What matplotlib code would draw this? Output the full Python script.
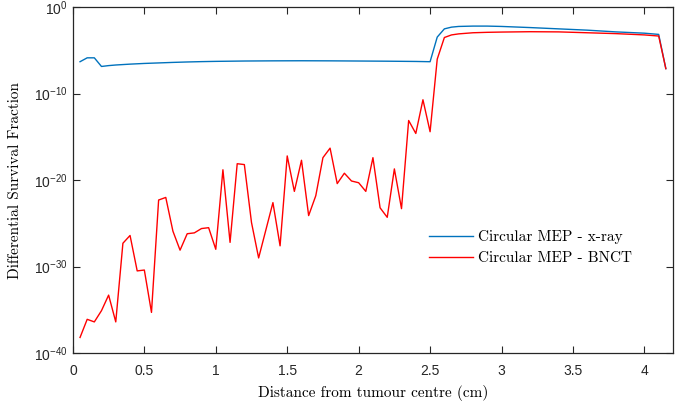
import matplotlib
matplotlib.use("Agg")
import matplotlib.pyplot as plt
from matplotlib.ticker import NullLocator

plt.rcParams['font.family'] = ['Liberation Sans', 'DejaVu Sans']

# log10 of differential survival fraction
xray_x = [0.05, 0.10, 0.15, 0.20, 0.25, 0.30, 0.40, 0.50, 0.60, 0.70, 0.80, 0.90, 1.00,
          1.20, 1.40, 1.60, 1.80, 2.00, 2.20, 2.40, 2.50, 2.55, 2.60, 2.65, 2.70, 2.80,
          2.90, 3.00, 3.20, 3.40, 3.60, 3.80, 4.00, 4.10, 4.15]
xray_log = [-6.3, -5.85, -5.85, -6.85, -6.75, -6.68, -6.58, -6.5, -6.44, -6.38, -6.33, -6.29, -6.26,
            -6.22, -6.2, -6.19, -6.2, -6.22, -6.24, -6.27, -6.3, -3.45, -2.5, -2.3, -2.22, -2.18,
            -2.18, -2.22, -2.35, -2.5, -2.65, -2.85, -3.0, -3.14, -7.1]

bnct_x = [0.05, 0.10, 0.15, 0.20, 0.25, 0.30, 0.35, 0.40, 0.45, 0.50, 0.55, 0.60, 0.65, 0.70,
          0.75, 0.80, 0.85, 0.90, 0.95, 1.00, 1.05, 1.10, 1.15, 1.20, 1.25, 1.30, 1.35, 1.40,
          1.45, 1.50, 1.55, 1.60, 1.65, 1.70, 1.75, 1.80, 1.85, 1.90, 1.95, 2.00, 2.05, 2.10,
          2.15, 2.20, 2.25, 2.30, 2.35, 2.40, 2.45, 2.50, 2.55, 2.60, 2.65, 2.70, 2.80, 2.90,
          3.00, 3.20, 3.40, 3.60, 3.80, 4.00, 4.10, 4.15]
bnct_log = [-38.2, -36.1, -36.4, -35.1, -33.3, -36.4, -27.3, -26.4, -30.5, -30.4, -35.3, -22.3,
            -22.0, -25.9, -28.1, -26.2, -26.1, -25.6, -25.5, -28.0, -18.8, -27.2, -18.1, -18.2,
            -24.9, -29.0, -25.8, -22.6, -27.6, -17.2, -21.3, -17.7, -24.1, -21.8, -17.4, -16.3,
            -20.4, -19.2, -20.1, -20.3, -21.3, -17.4, -23.2, -24.3, -18.7, -23.3, -13.1, -14.6,
            -10.7, -14.4, -6.0, -3.5, -3.2, -3.08, -2.95, -2.9, -2.87, -2.83, -2.85, -2.95,
            -3.05, -3.2, -3.33, -7.1]

xray_y = [10 ** v for v in xray_log]
bnct_y = [10 ** v for v in bnct_log]

fig = plt.figure(figsize=(6.75, 4.03), dpi=100)
ax = fig.add_axes([0.108, 0.124, 0.889, 0.858])

ax.plot(xray_x, xray_y, color='#0072BD', lw=1.0, label='Circular MEP - x-ray')
ax.plot(bnct_x, bnct_y, color='#FF0000', lw=1.0, label='Circular MEP - BNCT')

ax.set_yscale('log')
ax.set_xlim(0, 4.2)
ax.set_ylim(1e-40, 1e0)
ax.set_yticks([1e-40, 1e-30, 1e-20, 1e-10, 1e0])
ax.yaxis.set_minor_locator(NullLocator())
ax.set_xticks([0, 0.5, 1, 1.5, 2, 2.5, 3, 3.5, 4])
ax.set_xticklabels(['0', '0.5', '1', '1.5', '2', '2.5', '3', '3.5', '4'])

ax.tick_params(direction='in', top=True, right=True, length=5, width=0.8,
               colors='#262626', labelsize=10)
ax.tick_params(axis='x', pad=8)
for s in ax.spines.values():
    s.set_color('#262626')
    s.set_linewidth(0.9)

ax.set_xlabel('Distance from tumour centre (cm)', fontfamily='cmr10', fontsize=11, labelpad=5)
ax.set_ylabel('Differential Survival Fraction', fontfamily='cmr10', fontsize=11, labelpad=9)

ax.legend(loc='center left', bbox_to_anchor=(0.583, 0.305), frameon=False,
          prop={'family': 'cmr10', 'size': 11}, handlelength=2.9, handletextpad=0.3,
          labelspacing=0.45, borderaxespad=0)

fig.savefig('out.png', dpi=100)
